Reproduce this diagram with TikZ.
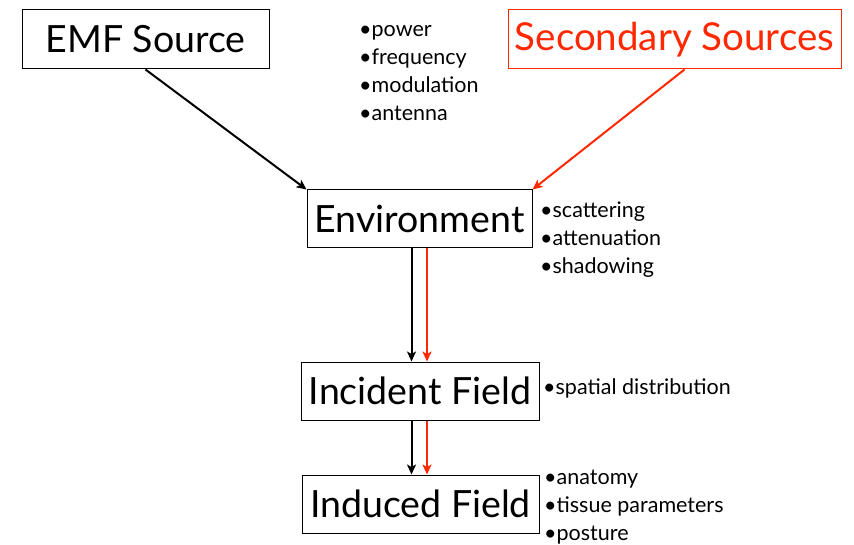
\documentclass[tikz,border=0pt]{standalone}
\usepackage{fontspec}
\setmainfont{Lato}
\usetikzlibrary{arrows.meta}
\definecolor{redsrc}{RGB}{255,40,0}
\begin{document}
\begin{tikzpicture}[x=1pt,y=-1pt,
  box/.style={draw, line width=1pt, inner sep=0pt, font=\fontsize{37.5}{42}\selectfont},
  bullets/.style={align=left, inner sep=0pt, anchor=north west, font=\fontsize{21.5}{28}\selectfont},
  arr/.style={line width=2pt, -{Stealth[length=10pt,width=9pt,inset=2.5pt]}}]
\useasboundingbox (0,0) rectangle (854,545);
\node[box, minimum width=247pt, minimum height=59pt] (emf) at (145.5,39.5) {EMF Source};
\node[box, draw=redsrc, text=redsrc, font=\fontsize{38.5}{42}\selectfont, minimum width=333pt, minimum height=59pt] (sec) at (674.5,39.5) {Secondary Sources};
\node[box, minimum width=225pt, minimum height=58pt] (env) at (419.5,219) {Environment};
\node[box, minimum width=238pt, minimum height=58pt] (inc) at (420,391) {Incident Field};
\node[box, minimum width=237pt, minimum height=58pt] (ind) at (420.5,504) {Induced Field};
\node[bullets] (b1) at (359,25) {•power\\•frequency\\•modulation\\•antenna};
\node[bullets] (b2) at (540,202) {•scattering\\•attenuation\\•shadowing};
\node[bullets] (b3) at (543,378) {•spatial distribution};
\node[bullets] (b4) at (544,470) {•anatomy\\•tissue parameters\\•posture};
\draw[arr] (emf.south) -- (env.north west);
\draw[arr, redsrc] ([xshift=10pt]sec.south) -- (env.north east);
\draw[arr] ([xshift=-8pt]env.south) -- ([xshift=-8.5pt]inc.north);
\draw[arr, redsrc] ([xshift=7.5pt]env.south) -- ([xshift=7pt]inc.north);
\draw[arr] ([xshift=-8.5pt]inc.south) -- ([xshift=-9pt]ind.north);
\draw[arr, redsrc] ([xshift=7pt]inc.south) -- ([xshift=6.5pt]ind.north);
\end{tikzpicture}
\end{document}
